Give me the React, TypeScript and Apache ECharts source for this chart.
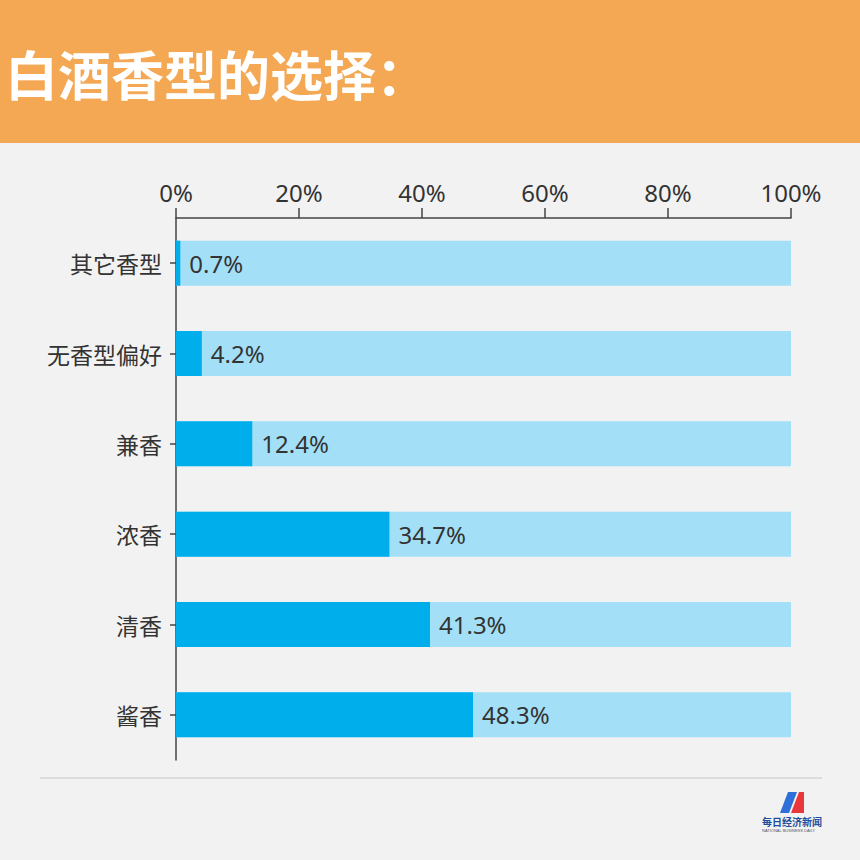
import React, { useEffect, useRef } from "react";
import * as echarts from "echarts";

const categories = ["其它香型", "无香型偏好", "兼香", "浓香", "清香", "酱香"];
const values = [0.7, 4.2, 12.4, 34.7, 41.3, 48.3];
const totals = [100, 100, 100, 100, 100, 100];
const xTicks = [0, 20, 40, 60, 80, 100];
const title = "白酒香型的选择：";

export default function App() {
  const ref = useRef<HTMLDivElement>(null);
  useEffect(() => {
    const chart = echarts.init(ref.current!, null, { renderer: "svg" });
    const font = "'Noto Sans', 'Noto Sans CJK SC', sans-serif";
    chart.setOption({
      animation: false,
      backgroundColor: "#F2F2F2",
      textStyle: { fontFamily: font },
      grid: { left: 176, right: 69, top: 218, bottom: 100, containLabel: false },
      xAxis: {
        type: "value",
        position: "top",
        min: xTicks[0],
        max: xTicks[xTicks.length - 1],
        interval: 20,
        axisLine: { show: true, lineStyle: { color: "#444", width: 1.5 } },
        axisTick: { show: true, inside: false, length: 10, lineStyle: { color: "#444", width: 1.5 } },
        splitLine: { show: false },
        axisLabel: {
          formatter: "{value}%",
          color: "#333",
          fontSize: 24,
          margin: 14,
          fontFamily: font,
        },
      },
      yAxis: {
        type: "category",
        data: categories,
        inverse: true,
        axisLine: { show: true, lineStyle: { color: "#444", width: 1.5 } },
        axisTick: { show: true, length: 6, alignWithLabel: true, lineStyle: { color: "#444", width: 1.5 } },
        axisLabel: { color: "#333", fontSize: 23, margin: 14, fontFamily: "'Noto Sans CJK SC', sans-serif" },
      },
      series: [
        {
          type: "bar",
          data: totals,
          barWidth: 45,
          barGap: "-100%",
          itemStyle: { color: "#A3E0F7" },
          silent: true,
          z: 1,
        },
        {
          type: "bar",
          data: values,
          barWidth: 45,
          itemStyle: { color: "#00AEEC" },
          z: 2,
          label: {
            show: true,
            position: "right",
            distance: 9,
            formatter: (p: any) => p.value + "%",
            color: "#333",
            fontSize: 24,
            fontFamily: font,
          },
        },
      ],
      graphic: [
        { type: "rect", left: 0, top: 0, shape: { width: 860, height: 143 }, style: { fill: "#F5A853" }, z: 10 },
        {
          type: "text",
          x: 5,
          y: 73,
          style: {
            text: title,
            fill: "#FFFFFF",
            font: "bold 53px 'Noto Sans CJK SC', sans-serif",
            verticalAlign: "middle",
          },
          z: 11,
        },
        {
          type: "line",
          shape: { x1: 40, y1: 778, x2: 822, y2: 778 },
          style: { stroke: "#DCDCDC", lineWidth: 2 },
          z: 10,
        },
        {
          type: "polygon",
          shape: { points: [[780, 813], [788, 792], [797, 792], [789, 813]] },
          style: { fill: "#2E6FD9" },
          z: 10,
        },
        {
          type: "polygon",
          shape: { points: [[791, 813], [799, 792], [804, 792], [804, 813]] },
          style: { fill: "#E8383D" },
          z: 10,
        },
        {
          type: "text",
          left: 762,
          top: 816,
          style: { text: "每日经济新闻", fill: "#1F4E9C", font: "bold 10px 'Noto Sans CJK SC', sans-serif" },
          z: 10,
        },
        {
          type: "text",
          left: 762,
          top: 828,
          style: { text: "NATIONAL BUSINESS DAILY", fill: "#555", font: "4px sans-serif" },
          z: 10,
        },
      ],
    });
    return () => chart.dispose();
  }, []);
  return <div ref={ref} style={{ position: "fixed", left: 0, top: 0, width: 860, height: 860 }} />;
}
